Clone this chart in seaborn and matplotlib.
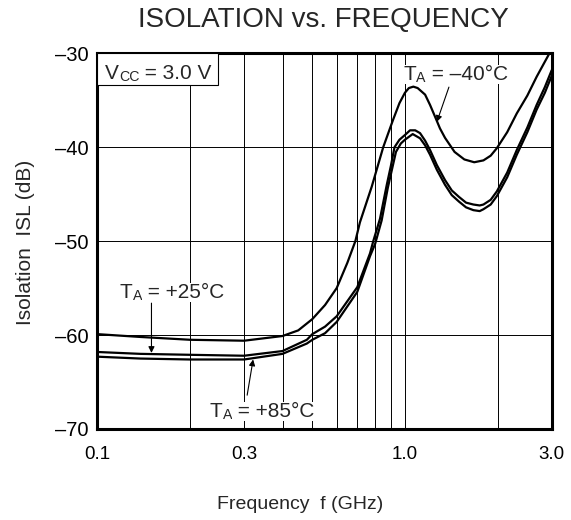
import pandas as pd
import matplotlib.pyplot as plt
import seaborn as sns
from matplotlib.patches import Rectangle

# Datos (frecuencia en GHz, aislamiento en dB)
freq_m40 = [0.1, 0.138, 0.2, 0.3, 0.4, 0.45, 0.5, 0.55, 0.6, 0.65, 0.69, 0.714, 0.78, 0.85,
            0.885, 0.917, 0.96, 1.0, 1.03, 1.065, 1.1, 1.163, 1.207, 1.253, 1.3, 1.35, 1.45, 1.56,
            1.68, 1.8, 1.9, 1.99, 2.15, 2.31, 2.5, 2.68, 2.95]
isl_m40 = [-59.9, -60.2, -60.5, -60.6, -60.1, -59.5, -58.3, -56.8, -55.0, -52.3, -50.0, -48.0, -44.2, -40.0,
           -38.4, -37.0, -35.3, -34.2, -33.7, -33.55, -33.7, -34.4, -35.5, -36.75, -38.0, -39.0, -40.5, -41.3,
           -41.6, -41.4, -40.9, -40.1, -38.4, -36.4, -34.5, -32.5, -30.0]

freq_p25 = [0.1, 0.138, 0.2, 0.3, 0.4, 0.48, 0.5, 0.55, 0.6, 0.7, 0.77, 0.789, 0.83, 0.873,
            0.9, 0.925, 0.96, 1.0, 1.039, 1.08, 1.12, 1.163, 1.207, 1.27, 1.35, 1.42, 1.5, 1.58,
            1.669, 1.75, 1.8, 1.9, 1.99, 2.15, 2.31, 2.5, 2.68, 2.85, 3.0]
isl_p25 = [-61.8, -62.0, -62.1, -62.2, -61.7, -60.5, -59.9, -59.1, -58.0, -54.9, -51.3, -50.0, -47.6, -44.0,
           -42.0, -40.0, -39.2, -38.7, -38.2, -38.2, -38.5, -39.3, -40.3, -41.9, -43.5, -44.6, -45.3, -45.9,
           -46.1, -46.2, -46.1, -45.6, -44.7, -42.7, -40.3, -37.9, -35.5, -33.6, -31.8]

freq_p85 = [0.1, 0.138, 0.2, 0.3, 0.4, 0.48, 0.5, 0.55, 0.6, 0.7, 0.77, 0.8, 0.84, 0.88,
            0.91, 0.935, 0.97, 1.0, 1.06, 1.12, 1.163, 1.207, 1.27, 1.35, 1.42, 1.5, 1.58,
            1.669, 1.75, 1.8, 1.9, 1.99, 2.15, 2.31, 2.5, 2.68, 2.85, 3.0]
isl_p85 = [-62.3, -62.5, -62.6, -62.6, -62.0, -60.9, -60.5, -59.8, -58.6, -55.4, -51.6, -50.3, -47.8, -44.3,
           -42.2, -40.5, -39.6, -39.2, -38.6, -39.05, -39.8, -40.8, -42.4, -44.0, -45.1, -45.8, -46.4,
           -46.7, -46.8, -46.6, -46.1, -45.2, -43.2, -40.8, -38.4, -36.0, -34.2, -32.4]

x_grid = [0.1, 0.2, 0.3, 0.4, 0.5, 0.6, 0.7, 0.8, 0.9, 1.0, 2.0, 3.0]
x_labels = ['0.1', '', '0.3', '', '', '', '', '', '', '1.0', '', '3.0']
y_ticks = [-70, -60, -50, -40, -30]
y_labels = ['\u201370', '\u201360', '\u201350', '\u201340', '\u201330']

df = pd.concat([
    pd.DataFrame({'Frecuencia': freq_m40, 'ISL': isl_m40, 'Temp': '-40'}),
    pd.DataFrame({'Frecuencia': freq_p25, 'ISL': isl_p25, 'Temp': '+25'}),
    pd.DataFrame({'Frecuencia': freq_p85, 'ISL': isl_p85, 'Temp': '+85'}),
])

sns.set_theme(style='white')
plt.rcParams['font.family'] = ['Liberation Sans', 'DejaVu Sans']

fig = plt.figure(figsize=(5.71, 5.2), dpi=100)
ax = fig.add_axes([0.1704, 0.175, 0.7958, 0.7225])

sns.lineplot(data=df, x='Frecuencia', y='ISL', hue='Temp', palette=['black'] * 3,
             estimator=None, linewidth=1.6, legend=False, ax=ax)

ax.set_xscale('log')
ax.set_xlim(0.1, 3.0)
ax.set_ylim(-70, -30)
ax.set_xticks(x_grid)
ax.set_xticklabels(x_labels)
ax.minorticks_off()
ax.set_yticks(y_ticks)
ax.set_yticklabels(y_labels)
ax.tick_params(axis='both', length=0, colors='black')
ax.tick_params(axis='x', pad=12, labelsize=13.5)
ax.tick_params(axis='y', pad=6, labelsize=14.5)
ax.set_xlabel('')
ax.set_ylabel('')
ax.grid(True, color='black', linewidth=0.7)
ax.set_axisbelow(True)
for s in ax.spines.values():
    s.set_linewidth(2.2)
    s.set_color('black')

# Titulos
fig.text(0.567, 0.962, 'ISOLATION vs. FREQUENCY', ha='center', va='center', fontsize=20)
fig.text(0.525, 0.029, 'Frequency  f (GHz)', ha='center', va='center', fontsize=14)
fig.text(0.044, 0.534, 'Isolation  ISL (dB)', ha='center', va='center', rotation=90, fontsize=15)


def etiqueta(x, y, big, small, rest, size=15, box=True):
    bb = dict(facecolor='white', edgecolor='none', pad=0) if box else None
    t1 = ax.text(x, y, big, fontsize=size, va='baseline', ha='left', bbox=bb, zorder=4)
    t2 = ax.annotate(small, xy=(1, 0), xycoords=t1, xytext=(0, -0.9), textcoords='offset points',
                     fontsize=size * 0.68, va='bottom', ha='left', bbox=bb, zorder=4)
    ax.annotate(rest, xy=(1, 0), xycoords=t2, xytext=(0, 0.9), textcoords='offset points',
                fontsize=size, va='bottom', ha='left', bbox=bb, zorder=4)


# Caja Vcc
ax.add_patch(Rectangle((0, 1 - 0.084), 0.265, 0.084, transform=ax.transAxes,
                       facecolor='white', edgecolor='black', linewidth=0.8, zorder=3))
etiqueta(0.106, -32.7, 'V', 'CC', ' = 3.0 V', box=False)

# Etiquetas de temperatura
etiqueta(0.99, -32.8, 'T', 'A', ' = \u201340\u00b0C')
etiqueta(0.1185, -56.0, 'T', 'A', ' = +25\u00b0C')
etiqueta(0.232, -68.7, 'T', 'A', ' = +85\u00b0C')

flecha = dict(arrowstyle='-|>', color='black', lw=0.8, mutation_scale=9, shrinkA=0, shrinkB=0)
ax.annotate('', xy=(1.27, -37.3), xytext=(1.39, -33.6), arrowprops=flecha)
ax.annotate('', xy=(0.150, -61.9), xytext=(0.150, -56.6), arrowprops=flecha)
ax.annotate('', xy=(0.321, -62.6), xytext=(0.307, -66.4), arrowprops=flecha)

plt.savefig('out.png', dpi=100)
